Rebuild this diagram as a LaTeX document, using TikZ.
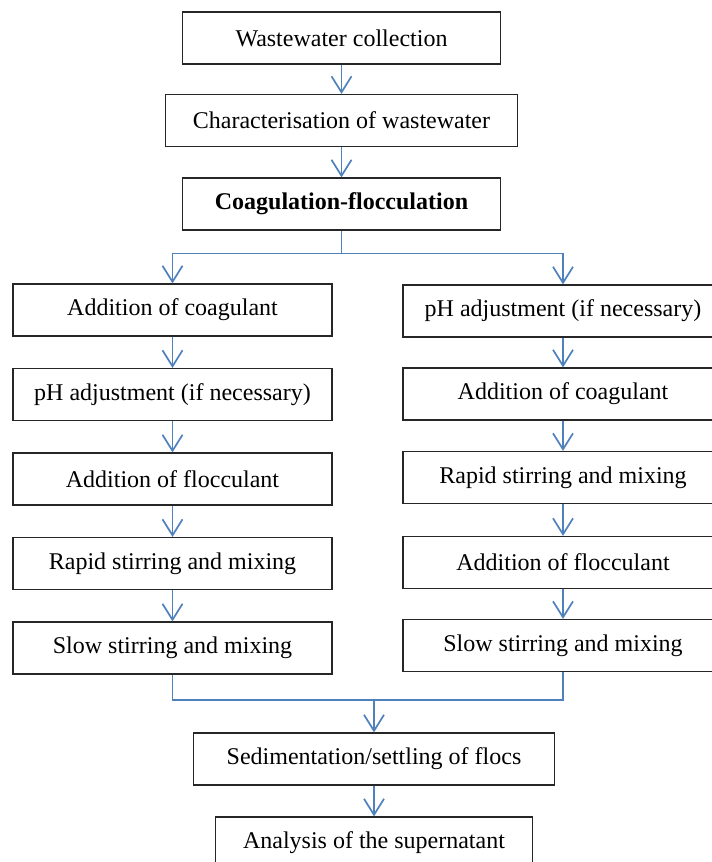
\documentclass[tikz,border=0pt]{standalone}
\usepackage{fontspec}
\setmainfont{Liberation Serif}
\usetikzlibrary{arrows.meta}

\definecolor{flowblue}{RGB}{79,129,189}

\tikzstyle{stage} = [draw=black!85, line width=1.2pt, text centered,%
                     minimum width = 319pt, minimum height = 52pt, inner sep=0pt, anchor=center,%
                     font=\fontsize{24}{28}\selectfont]
\tikzstyle{flow} = [draw=flowblue, line width=1.7pt, -{Straight Barb[length=16pt, width=20pt]}]
\tikzstyle{link} = [draw=flowblue, line width=1.7pt]

\begin{document}
\begin{tikzpicture}[x=1pt, y=-1pt, node distance = 84pt]

	\useasboundingbox (0,0) rectangle (712,862);
	\clip (0,0) rectangle (712,862);

	\node (collect)  [stage, minimum width=318pt] at (341.5,38) {Wastewater collection};
	\node (charac)   [stage, minimum width=352pt, below of = collect, node distance = 82.5pt] {Characterisation of wastewater};
	\node (coagfloc) [stage, minimum width=318pt, below of = charac, node distance = 83.5pt] {\bfseries Coagulation-flocculation};

	% left branch
	\node (coagL)   [stage] at (172.5,310) {Addition of coagulant};
	\node (phL)     [stage, below of = coagL, node distance = 84.5pt] {pH adjustment (if necessary)};
	\node (flocL)   [stage, below of = phL, node distance = 84.5pt] {Addition of flocculant};
	\node (rapidL)  [stage, below of = flocL, node distance = 84.5pt] {Rapid stirring and mixing};
	\node (slowL)   [stage, below of = rapidL, node distance = 84.5pt] {Slow stirring and mixing};

	% right branch
	\node (phR)     [stage, minimum width=320pt] at (563,311) {pH adjustment (if necessary)};
	\node (coagR)   [stage, minimum width=320pt, below of = phR, node distance = 83pt] {Addition of coagulant};
	\node (rapidR)  [stage, minimum width=320pt, below of = coagR, node distance = 83.5pt] {Rapid stirring and mixing};
	\node (flocR)   [stage, minimum width=320pt, below of = rapidR, node distance = 85pt] {Addition of flocculant};
	\node (slowR)   [stage, minimum width=320pt, below of = flocR, node distance = 83pt] {Slow stirring and mixing};

	\node (settle)   [stage, minimum width=361pt] at (374,759) {Sedimentation/settling of flocs};
	\node (analysis) [stage, minimum width=317pt, below of = settle] {Analysis of the supernatant};

	\path (coagfloc.south) ++(0,23) coordinate (split);
	\coordinate (merge) at (374,700);

	\draw[flow] (collect) -- (charac);
	\draw[flow] (charac) -- (coagfloc);
	\draw[link] (coagfloc.south) -- (split);
	\draw[flow] (split) -| (coagL);
	\draw[flow] (split) -| (phR);

	\draw[flow] (coagL) -- (phL);
	\draw[flow] (phL) -- (flocL);
	\draw[flow] (flocL) -- (rapidL);
	\draw[flow] (rapidL) -- (slowL);

	\draw[flow] (phR) -- (coagR);
	\draw[flow] (coagR) -- (rapidR);
	\draw[flow] (rapidR) -- (flocR);
	\draw[flow] (flocR) -- (slowR);

	\draw[link] (slowL.south) |- (merge) -| (slowR.south);
	\draw[flow] (merge) -- (settle);
	\draw[flow] (settle) -- (analysis);
\end{tikzpicture}
\end{document}
